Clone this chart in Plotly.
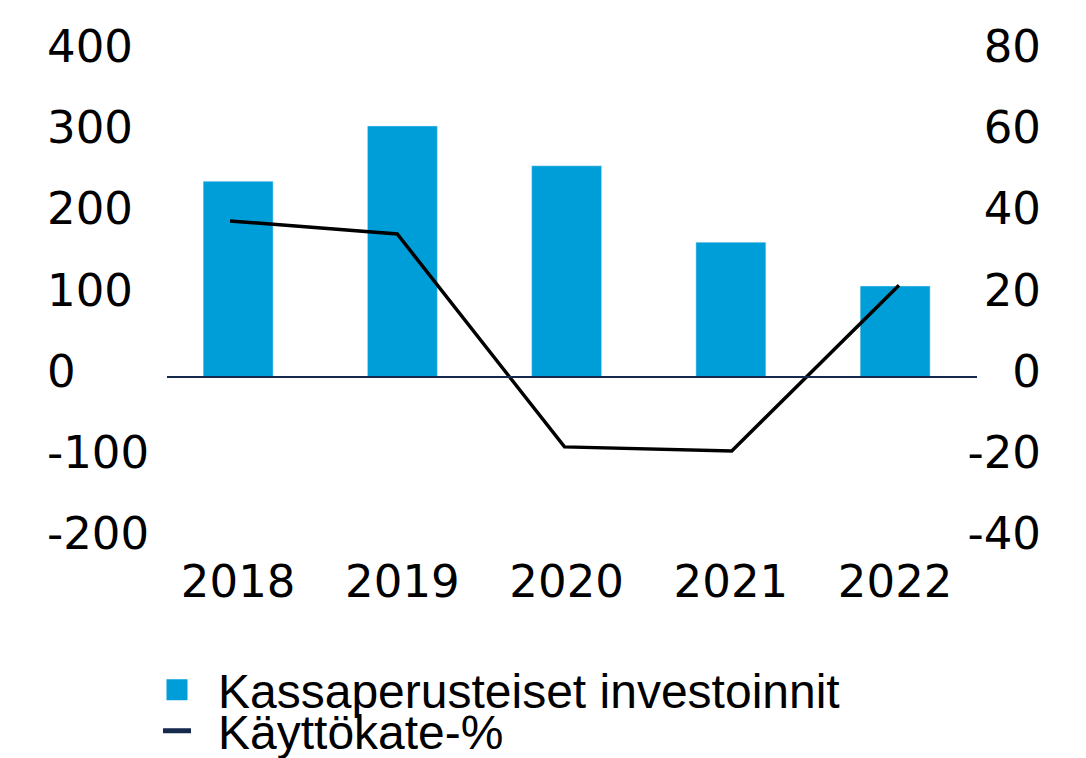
import plotly.graph_objects as go

# ---- data ----
years = ["2018", "2019", "2020", "2021", "2022"]
investments = [241, 309, 260, 166, 112]          # Kassaperusteiset investoinnit (left axis)
ebitda_pct = [38.4, 35.2, -17.2, -18.2, 22.6]     # Käyttökate-% (right axis)
left_ticks = [-200, -100, 0, 100, 200, 300, 400]
right_ticks = [-40, -20, 0, 20, 40, 60, 80]
bar_name = "Kassaperusteiset investoinnit"
line_name = "Käyttökate-%"

# ---- style ----
W, H = 1086, 758
BLUE = "#009ED9"
NAVY = "#15294D"
TICK_FONT = dict(family="DejaVu Sans", size=45, color="black")
LEG_FONT = dict(family="Liberation Sans", size=48, color="black")

fig = go.Figure()
fig.add_trace(go.Bar(x=years, y=investments, marker_color=BLUE, width=0.426,
                     showlegend=False, xaxis="x", yaxis="y"))
fig.add_trace(go.Scatter(x=years, y=ebitda_pct, mode="lines",
                         line=dict(color="black", width=3.5),
                         xaxis="x2", yaxis="y2", showlegend=False))
# legend entries
fig.add_trace(go.Scatter(x=[None], y=[None], mode="markers",
                         marker=dict(symbol="square", size=26, color=BLUE,
                                     line=dict(color=BLUE, width=5)),
                         name=bar_name, legend="legend"))
fig.add_trace(go.Scatter(x=[None], y=[None], mode="lines",
                         line=dict(color=NAVY, width=5, dash="0px,22px,28px,200px"),
                         name=line_name, legend="legend2"))

ydom = [(H - 539.5) / H, (H - 52) / H]
xdom = [156 / W, 977.25 / W]

common_y = dict(showgrid=False, showline=False, zeroline=False, ticks="",
                tickfont=TICK_FONT, ticklabelshift=-6, anchor="free",
                ticklabelposition="inside", ticklabeloverflow="allow",
                automargin=False)

fig.update_layout(
    width=W, height=H, autosize=False,
    margin=dict(l=0, r=0, t=0, b=0, autoexpand=False),
    paper_bgcolor="white", plot_bgcolor="white",
    xaxis=dict(domain=xdom, type="category", range=[-0.5, 4.5],
               showgrid=False, showline=False, zeroline=False, ticks="",
               tickfont=TICK_FONT, anchor="y", ticklabelstandoff=11,
               automargin=False),
    xaxis2=dict(overlaying="x", type="category", range=[-0.4425, 4.4679],
                visible=False, anchor="y2"),
    yaxis=dict(domain=ydom, range=[-200, 400], tickvals=left_ticks,
               ticktext=[str(v) for v in left_ticks],
               position=43 / W, **common_y),
    yaxis2=dict(overlaying="y", side="right", range=[-40, 80],
                tickvals=right_ticks, ticktext=[str(v) for v in right_ticks],
                position=1044 / W, **common_y),
    legend=dict(x=136 / W, y=1 - 690 / H, xanchor="left", yanchor="middle",
                font=LEG_FONT, bgcolor="rgba(0,0,0,0)", itemwidth=72),
    legend2=dict(x=136 / W, y=1 - 731 / H, xanchor="left", yanchor="middle",
                 font=LEG_FONT, bgcolor="rgba(0,0,0,0)", itemwidth=72),
    shapes=[dict(type="line", xref="paper", yref="y", x0=167 / W, x1=977 / W,
                 y0=0, y1=0, line=dict(color=NAVY, width=2), layer="above")],
    showlegend=True,
)

fig.write_html("out.html", config={"displayModeBar": False},
               post_script="document.body.style.margin='0';")
